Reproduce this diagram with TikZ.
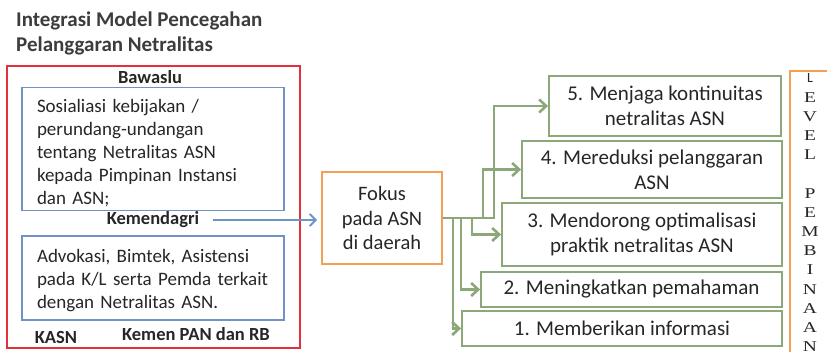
\documentclass[tikz,border=0pt]{standalone}
\usepackage{fontspec}
\usepackage{graphicx}
\setmainfont{Carlito}
\usetikzlibrary{arrows.meta,positioning,calc}
\definecolor{txt}{HTML}{262626}
\definecolor{redline}{HTML}{E3303C}
\definecolor{blueline}{HTML}{6F93C6}
\definecolor{orangeline}{HTML}{F2A055}
\definecolor{greenline}{HTML}{8DA878}
\newcommand{\topgap}[1]{\rule{0pt}{#1}}
\newcommand{\wideletter}[1]{\scalebox{1.3}[1]{#1}}
\tikzset{
  every node/.style={text=txt},
  bluebox/.style={draw=blueline, line width=1.3pt, inner xsep=15pt, align=left,
    font=\fontsize{19}{23}\selectfont},
  greenbox/.style={draw=greenline, line width=1.8pt, align=center, inner sep=0pt,
    font=\fontsize{21}{25}\selectfont},
  focusbox/.style={draw=orangeline, line width=1.8pt, align=center, inner sep=0pt,
    minimum width=120pt, minimum height=92pt, font=\fontsize{20.5}{24.5}\selectfont},
  boldlabel/.style={font=\bfseries\fontsize{18.5}{22}\selectfont},
  garrow/.style={draw=greenline, line width=2.6pt,
    -{Straight Barb[length=7pt, width=13pt, line width=2.6pt]}},
  barrow/.style={draw=blueline, line width=2pt,
    -{Straight Barb[length=6pt, width=12pt, line width=2pt]}},
}
\begin{document}
\begin{tikzpicture}[x=1pt, y=-1pt]
\useasboundingbox (0,0) rectangle (827,352);
\clip (0,0) rectangle (827,352);

% title
\node[anchor=north west, inner sep=0pt, align=left,
  font=\bfseries\fontsize{21}{25}\selectfont, text=txt!90] (title) at (16,12)
  {Integrasi Model Pencegahan\\Pelanggaran Netralitas};

% red frame with the two activity boxes
\node[draw=redline, line width=1.1pt, minimum width=293pt, minimum height=282pt,
  inner sep=0pt] (frame) at (153.5,207) {};
\node[boldlabel] (bawaslu) at (150,77) {Bawaslu};
\node[bluebox, minimum width=262pt, minimum height=122pt, text width=232pt] (sos) at (153,149)
  {\topgap{22pt}Sosialiasi kebijakan /\\perundang-undangan\\tentang Netralitas ASN\\kepada Pimpinan Instansi\\dan ASN;};
\node[boldlabel] (kem) at (153,220) {Kemendagri};
\node[bluebox, minimum width=262pt, minimum height=84pt, text width=232pt] (adv) at (153,278)
  {\topgap{18pt}Advokasi, Bimtek, Asistensi\\pada K/L serta Pemda terkait\\dengan Netralitas ASN.};
\node[boldlabel] (kasn) at (56,337) {KASN};
\node[boldlabel] (kemenpan) at (196,334) {Kemen PAN dan RB};

% focus
\node[focusbox] (fokus) at (382,218) {Fokus\\pada ASN\\di daerah};
\draw[barrow, shorten <=10pt, shorten >=4pt] (kem.east) -- (kem.east -| fokus.west);

% levels
\node[greenbox, minimum width=232pt, minimum height=60pt] (b5) at (665,106)
  {5. Menjaga kontinuitas\\netralitas ASN};
\node[greenbox, minimum width=260pt, minimum height=57pt] (b4) at (652,169.5)
  {4. Mereduksi pelanggaran\\ASN};
\node[greenbox, minimum width=280pt, minimum height=63pt] (b3) at (642,234.5)
  {3. Mendorong optimalisasi\\praktik netralitas ASN};
\node[greenbox, minimum width=301pt, minimum height=35pt] (b2) at (631.5,289.5)
  {2. Meningkatkan pemahaman};
\node[greenbox, minimum width=320pt, minimum height=35pt] (b1) at (622,328.5)
  {1. Memberikan informasi};

% branches from the focus box
\draw[garrow] (fokus.east) -- ++(51,0) |- (b5.west);
\draw[garrow] (fokus.east) -- ++(40,0) |- (b4.west);
\draw[garrow] (fokus.east) -- ++(29,0) |- (b3.west);
\draw[garrow] (fokus.east) -- ++(18,0) |- (b2.west);
\draw[garrow] (fokus.east) -- ++(10,0) |- (b1.west);

% side bar
\node[draw=orangeline, line width=1.6pt, anchor=north west, inner sep=0pt,
  minimum width=70pt, minimum height=320pt] (lvl) at (789,70) {};
\node[anchor=base, inner sep=0pt, text=txt] (lvltxt) at (810,83)
  {\parbox[t]{30pt}{\centering
   {\fontsize{14}{19.2}\selectfont L}\\
   \fontspec{Liberation Serif}\fontsize{15}{19.2}\selectfont
   \wideletter{E}\\\wideletter{V}\\\wideletter{E}\\\wideletter{L}\\\mbox{}\\
   \wideletter{P}\\\wideletter{E}\\\wideletter{M}\\\wideletter{B}\\\wideletter{I}\\
   \wideletter{N}\\\wideletter{A}\\\wideletter{A}\\\wideletter{N}}};
\end{tikzpicture}
\end{document}
